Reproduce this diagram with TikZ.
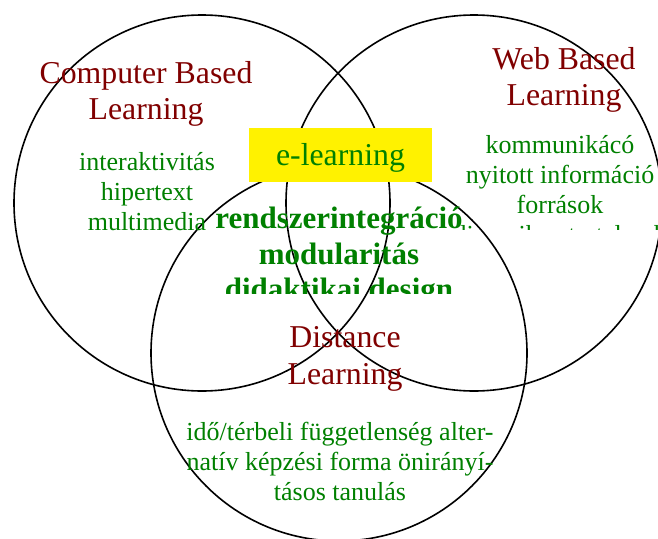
\documentclass[tikz,border=0pt]{standalone}
\usepackage{fontspec}
\setmainfont{Liberation Serif}
\definecolor{dred}{HTML}{800000}
\definecolor{dgreen}{HTML}{008000}
\begin{document}
\begin{tikzpicture}[x=1pt,y=-1pt,
  circ/.style={circle,draw=black,line width=1.6pt,inner sep=0pt,outer sep=0pt,minimum size=376pt},
  ttl/.style={text=dred,font=\fontsize{31.8}{36.5}\selectfont,align=center,inner sep=0pt},
  item/.style={text=dgreen,font=\fontsize{26}{30}\selectfont,align=center,inner sep=0pt},
  bold/.style={text=dgreen,font=\fontsize{31}{35.5}\selectfont\bfseries,align=center,inner sep=0pt},
  ybox/.style={fill=yellow,minimum width=183pt,minimum height=54pt,inner sep=0pt},
  eltext/.style={text=dgreen,font=\fontsize{31.8}{35}\selectfont,inner sep=0pt}]
\useasboundingbox (0,0) rectangle (658,538);
\node[circ] (c1) at (202,203) {};
\node[circ] (c2) at (474,203) {};
\node[circ] (c3) at (339,353) {};
\node[ybox] (el) at (340.5,155) {};
\node[eltext] (elt) at (340.5,158) {e-learning};
\node[ttl] (cbl) at (146,94) {Computer Based\\Learning};
\node[item] (cbli) at (147,192) {interaktivitás\\hipertext\\multimedia};
\node[ttl] (wbl) at (564,80) {Web Based\\Learning};
\begin{scope}
\clip (440,110) rectangle (658,229);
\node[item] (wbli) at (560,190) {kommunikácó\\nyitott információ\\források\\dinamikus tartalmak};
\end{scope}
\begin{scope}
\clip (205,190) rectangle (480,293);
\node[bold] (mid) at (339,257) {rendszerintegráció\\modularitás\\didaktikai design};
\end{scope}
\node[ttl] (dl) at (345,359) {Distance\\Learning};
\node[item] (dli) at (340,461) {idő/térbeli függetlenség alter-\\natív képzési forma önirányí-\\tásos tanulás};
\end{tikzpicture}
\end{document}
